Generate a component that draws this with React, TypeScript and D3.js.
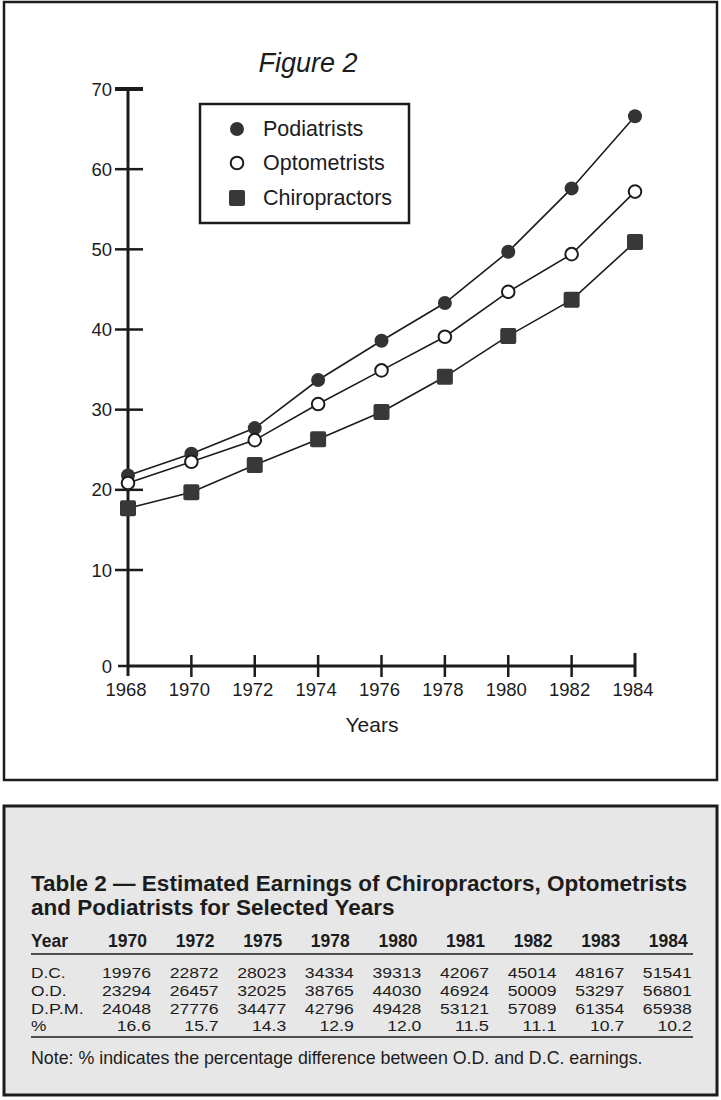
import React from "react";
import * as d3 from "d3";

// chart series, in $ thousands
const years = [1968, 1970, 1972, 1974, 1976, 1978, 1980, 1982, 1984];
const podiatrists = [21.8, 24.5, 27.7, 33.7, 38.6, 43.3, 49.7, 57.6, 66.6];
const optometrists = [20.85, 23.5, 26.2, 30.7, 34.9, 39.1, 44.7, 49.4, 57.2];
const chiropractors = [17.7, 19.7, 23.1, 26.3, 29.7, 34.1, 39.2, 43.7, 50.9];
const yTicks = [0, 10, 20, 30, 40, 50, 60, 70];

// table 2
const tableYears = ["1970", "1972", "1975", "1978", "1980", "1981", "1982", "1983", "1984"];
const dcRow = ["19976", "22872", "28023", "34334", "39313", "42067", "45014", "48167", "51541"];
const odRow = ["23294", "26457", "32025", "38765", "44030", "46924", "50009", "53297", "56801"];
const dpmRow = ["24048", "27776", "34477", "42796", "49428", "53121", "57089", "61354", "65938"];
const pctRow = ["16.6", "15.7", "14.3", "12.9", "12.0", "11.5", "11.1", "10.7", "10.2"];

const font = "'Liberation Sans', Arial, Helvetica, sans-serif";
const ink = "#1c1c1c";

// printed table text is set a bit wider than it is tall
const charEm: Record<string, number> = { ".": 0.278, D: 0.722, C: 0.722, O: 0.778, P: 0.667, M: 0.833, "%": 0.889 };
const textWidth = (s: string, size: number) =>
  s.split("").reduce((w, c) => w + (charEm[c] ?? 0.556), 0) * size;

export default function App() {
  const x = d3.scaleLinear().domain([1968, 1984]).range([128, 635]);
  // the printed axis puts 0 a little further down than the 10-unit spacing
  const y = d3.scaleLinear().domain([0, 10, 70]).range([666, 570, 89]);

  const line = d3
    .line<number>()
    .x((_, i) => x(years[i]))
    .y((d) => y(d));

  const rows = [
    { label: "D.C.", values: dcRow },
    { label: "O.D.", values: odRow },
    { label: "D.P.M.", values: dpmRow },
    { label: "%", values: pctRow },
  ];
  const colRight = (i: number) => 151 + i * 67.6;

  return (
    <svg
      width={721}
      height={1100}
      style={{ position: "absolute", left: 0, top: 0, background: "#fff" }}
      fontFamily={font}
    >
      {/* figure frame */}
      <rect x={4} y={2} width={713} height={778} fill="#fff" stroke={ink} strokeWidth={2.5} />
      <text x={308} y={72} textAnchor="middle" fontSize={27} fontStyle="italic" fill={ink}>
        Figure 2
      </text>

      {/* y axis */}
      <line x1={128} x2={128} y1={y(70)} y2={676} stroke={ink} strokeWidth={3} />
      {yTicks.map((t) => (
        <g key={t}>
          <line
            x1={t === 0 ? 118 : 115}
            x2={t === 0 ? 128 : 143}
            y1={y(t)}
            y2={y(t)}
            stroke={ink}
            strokeWidth={t === 70 ? 4 : 2.5}
          />
          <text x={112} y={y(t) + 6.5} textAnchor="end" fontSize={18.5} fill={ink}>
            {t}
          </text>
        </g>
      ))}

      {/* x axis */}
      <line x1={128} x2={x(1984)} y1={y(0)} y2={y(0)} stroke={ink} strokeWidth={3} />
      {years.map((yr) => (
        <g key={yr}>
          {yr !== 1968 && (
            <line
              x1={x(yr)}
              x2={x(yr)}
              y1={yr === 1984 ? 653 : 655}
              y2={677}
              stroke={ink}
              strokeWidth={yr === 1984 ? 3 : 2.5}
            />
          )}
          <text x={x(yr) - 2} y={696} textAnchor="middle" fontSize={18.5} fill={ink}>
            {yr}
          </text>
        </g>
      ))}
      <text x={372} y={732} textAnchor="middle" fontSize={21} fill={ink}>
        Years
      </text>

      {/* lines */}
      {[podiatrists, optometrists, chiropractors].map((s, i) => (
        <path key={i} d={line(s) || ""} fill="none" stroke={ink} strokeWidth={1.6} />
      ))}

      {/* markers */}
      {chiropractors.map((v, i) => (
        <rect key={"c" + i} x={x(years[i]) - 8} y={y(v) - 8} width={16} height={16} rx={2} fill="#383838" />
      ))}
      {podiatrists.map((v, i) => (
        <circle key={"p" + i} cx={x(years[i])} cy={y(v)} r={7} fill="#333" />
      ))}
      {optometrists.map((v, i) => (
        <circle key={"o" + i} cx={x(years[i])} cy={y(v)} r={6.3} fill="#fff" stroke={ink} strokeWidth={2} />
      ))}

      {/* legend */}
      <rect x={200} y={104} width={209} height={119} fill="#fff" stroke={ink} strokeWidth={2.5} />
      <circle cx={237} cy={129} r={7} fill="#333" />
      <circle cx={237} cy={163} r={6.3} fill="#fff" stroke={ink} strokeWidth={2} />
      <rect x={229} y={190} width={16} height={16} rx={2} fill="#383838" />
      <text x={263} y={136} fontSize={21.5} fill={ink}>Podiatrists</text>
      <text x={263} y={170} fontSize={21.5} fill={ink}>Optometrists</text>
      <text x={263} y={205} fontSize={21.5} fill={ink}>Chiropractors</text>

      {/* table frame */}
      <rect x={4} y={806} width={713} height={289} fill="#e7e7e7" stroke={ink} strokeWidth={3} />
      <text x={31} y={891} fontSize={22.5} fontWeight="bold" fill={ink}>
        Table 2 — Estimated Earnings of Chiropractors, Optometrists
      </text>
      <text x={31} y={915} fontSize={22.5} fontWeight="bold" fill={ink}>
        and Podiatrists for Selected Years
      </text>

      <text x={31} y={947} fontSize={17.5} fontWeight="bold" fill={ink}>Year</text>
      {tableYears.map((t, i) => (
        <text key={t} x={colRight(i) - 4} y={947} textAnchor="end" fontSize={17.5} fontWeight="bold" fill={ink}>
          {t}
        </text>
      ))}
      <line x1={31} x2={693} y1={954} y2={954} stroke={ink} strokeWidth={1.5} />

      {rows.map((r, ri) => (
        <g key={r.label}>
          <text
            x={31}
            y={978 + ri * 17.8}
            fontSize={15.5}
            textLength={textWidth(r.label, 17.3)}
            lengthAdjust="spacingAndGlyphs"
            fill={ink}
          >
            {r.label}
          </text>
          {r.values.map((v, i) => (
            <text
              key={i}
              x={colRight(i)}
              y={978 + ri * 17.8}
              textAnchor="end"
              fontSize={15.5}
              textLength={textWidth(v, 17.6)}
              lengthAdjust="spacingAndGlyphs"
              fill={ink}
            >
              {v}
            </text>
          ))}
        </g>
      ))}
      <line x1={31} x2={693} y1={1037} y2={1037} stroke={ink} strokeWidth={1.5} />

      <text x={31} y={1064} fontSize={17.8} fill={ink}>
        Note: % indicates the percentage difference between O.D. and D.C. earnings.
      </text>
    </svg>
  );
}
